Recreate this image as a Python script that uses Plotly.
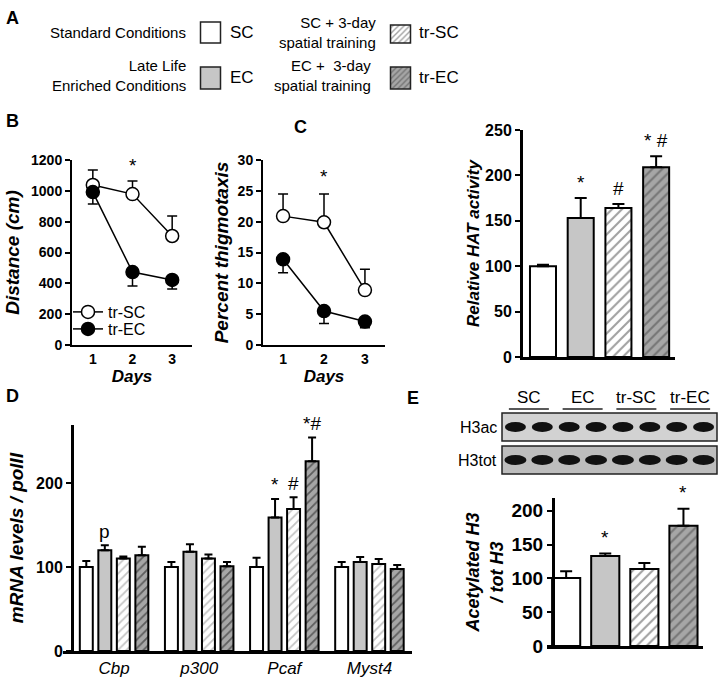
import plotly.graph_objects as go

W, H = 720, 677

# ---------------- data ----------------
days = [1, 2, 3]
dist_trsc = [1038, 979, 707]
dist_trsc_err = [97, 85, 130]
dist_trec = [992, 473, 422]
dist_trec_err = [77, 90, 59]

thig_trsc = [20.9, 19.9, 8.9]
thig_trsc_err = [3.6, 4.6, 3.4]
thig_trec = [13.9, 5.5, 3.8]
thig_trec_err = [2.2, 2.0, 1.0]

groups = ["SC", "EC", "tr-SC", "tr-EC"]
hat = [100, 153, 164, 209]
hat_err = [1.5, 22, 4.5, 12]
hat_sig = ["", "*", "#", "* #"]

genes = ["Cbp", "p300", "Pcaf", "Myst4"]
mrna_sc = [100, 100, 100, 100]
mrna_ec = [120, 118, 159, 106]
mrna_trsc = [110, 110, 169, 103.5]
mrna_trec = [114, 101, 226, 97.5]
mrna_sc_err = [7, 6, 11, 6]
mrna_ec_err = [6, 9, 22, 6]
mrna_trsc_err = [2.5, 5, 14, 6]
mrna_trec_err = [10, 5, 28, 5]
mrna_ec_sig = ["p", "", "*", ""]
mrna_trsc_sig = ["", "", "#", ""]
mrna_trec_sig = ["", "", "*#", ""]

ach3 = [100.7, 133, 114, 178]
ach3_err = [10, 4, 9, 25]
ach3_sig = ["", "*", "", "*"]

blot_rows = ["H3ac", "H3tot"]
blot_lanes_per_group = 2

# ---------------- styles ----------------
SANS = "Liberation Sans, Arial, sans-serif"
fill = ["white", "#c6c6c6", "white", "#a6a6a6"]
pat_shape = ["", "", "/", "/"]
pat_fg = ["black", "black", "#8a8a8a", "#141414"]


def X(px):
    return px / W


def Y(py):
    return 1 - py / H


fig = go.Figure()

# ---------- Panel B ----------
def line_traces(xa, ya, up, uperr, dn, dnerr, show):
    fig.add_trace(go.Scatter(
        x=days, y=up, mode="lines+markers", name="tr-SC", xaxis=xa, yaxis=ya,
        showlegend=show, legend="legend",
        line=dict(color="black", width=1.5),
        marker=dict(symbol="circle", size=13, color="white", line=dict(color="black", width=1.5)),
        error_y=dict(type="data", symmetric=False, array=uperr, arrayminus=[0] * 3,
                     color="black", thickness=1.5, width=5)))
    fig.add_trace(go.Scatter(
        x=days, y=dn, mode="lines+markers", name="tr-EC", xaxis=xa, yaxis=ya,
        showlegend=show, legend="legend2",
        line=dict(color="black", width=1.5),
        marker=dict(symbol="circle", size=13, color="black", line=dict(color="black", width=1.5)),
        error_y=dict(type="data", symmetric=False, array=[0] * 3, arrayminus=dnerr,
                     color="black", thickness=1.5, width=5)))


line_traces("x", "y", dist_trsc, dist_trsc_err, dist_trec, dist_trec_err, True)
line_traces("x2", "y2", thig_trsc, thig_trsc_err, thig_trec, thig_trec_err, False)

# ---------- Panel C ----------
idx = list(range(len(groups)))
fig.add_trace(go.Bar(
    x=idx, y=hat, width=0.69, xaxis="x3", yaxis="y3", showlegend=False,
    marker=dict(color=fill, line=dict(color="black", width=2),
                pattern=dict(shape=pat_shape, fgcolor=pat_fg, bgcolor=fill, size=7, solidity=0.3)),
    error_y=dict(type="data", symmetric=False, array=hat_err, arrayminus=[0] * 4,
                 color="black", thickness=2, width=6)))

# ---------- Panel D ----------
d_vals = [mrna_sc, mrna_ec, mrna_trsc, mrna_trec]
d_errs = [mrna_sc_err, mrna_ec_err, mrna_trsc_err, mrna_trec_err]
d_sigs = [["", "", "", ""], mrna_ec_sig, mrna_trsc_sig, mrna_trec_sig]
for k, g in enumerate(groups):
    fig.add_trace(go.Bar(
        x=genes, y=d_vals[k], name=g, xaxis="x4", yaxis="y4", showlegend=False,
        marker=dict(color=fill[k], line=dict(color="black", width=2),
                    pattern=dict(shape=pat_shape[k], fgcolor=pat_fg[k], bgcolor=fill[k],
                                 size=6, solidity=0.3)),
        error_y=dict(type="data", symmetric=False, array=d_errs[k], arrayminus=[0] * 4,
                     color="black", thickness=2, width=4)))

# ---------- Panel E ----------
fig.add_trace(go.Bar(
    x=idx, y=ach3, width=0.72, xaxis="x5", yaxis="y5", showlegend=False,
    marker=dict(color=fill, line=dict(color="black", width=2),
                pattern=dict(shape=pat_shape, fgcolor=pat_fg, bgcolor=fill, size=7, solidity=0.3)),
    error_y=dict(type="data", symmetric=False, array=ach3_err, arrayminus=[0] * 4,
                 color="black", thickness=2, width=6)))

# ---------- Panel A swatches (overlay pixel axis) ----------
sw_x = [210.5, 210.5, 400.5, 400.5]
sw_top = [22, 67, 25, 67]
sw_h = [21, 22, 18, 22]
sw_order = [0, 1, 2, 3]
fig.add_trace(go.Bar(
    x=sw_x, y=sw_h, base=sw_top, width=20, xaxis="x6", yaxis="y6", showlegend=False,
    hoverinfo="skip",
    marker=dict(color=[fill[i] for i in sw_order], line=dict(color="#222", width=1.5),
                pattern=dict(shape=[pat_shape[i] for i in sw_order],
                             fgcolor=[pat_fg[i] for i in sw_order],
                             bgcolor=[fill[i] for i in sw_order], size=4, solidity=0.35))))

# ---------------- axes ----------------
def yaxis(dom_top, dom_bot, rng, dtick, fsize, lw, anchor=None, position=None, title=None, tsize=18,
          standoff=6):
    d = dict(domain=[Y(dom_bot), Y(dom_top)], range=rng, dtick=dtick, showgrid=False,
             zeroline=False, showline=True, linecolor="black", linewidth=lw, automargin=False,
             ticks="outside", ticklen=5, tickwidth=lw * 0.8, tickcolor="black",
             tickfont=dict(family=SANS, size=fsize, color="black", weight="bold"))
    if position is not None:
        d.update(anchor="free", position=position)
    else:
        d.update(anchor=anchor)
    if title:
        d["title"] = dict(text=title, standoff=standoff,
                          font=dict(family=SANS, size=tsize, color="black", weight="bold", style="italic"))
    return d


def xaxis(x0, x1, rng, anchor, lw, showlabels=False, fsize=14, title=None, italic=False, bold=True,
          tickvals=None, ticktext=None):
    d = dict(domain=[X(x0), X(x1)], range=rng, anchor=anchor, showgrid=False, zeroline=False,
             showline=True, linecolor="black", linewidth=lw, ticks="", automargin=False,
             showticklabels=showlabels, ticklabelstandoff=0,
             tickfont=dict(family=SANS, size=fsize, color="black",
                           weight="bold" if bold else "normal",
                           style="italic" if italic else "normal"))
    if tickvals is not None:
        d.update(tickvals=tickvals, ticktext=ticktext)
    if title:
        d["title"] = dict(text=title, standoff=0,
                          font=dict(family=SANS, size=17, color="black", weight="bold", style="italic"))
    return d


lay = {}
lay["xaxis"] = xaxis(72, 192, [0.475, 3.5], "y", 2, True, 14, "Days", tickvals=days, ticktext=[str(d) for d in days])
lay["yaxis"] = yaxis(160, 345, [0, 1200], 200, 14, 2, anchor="x", title="Distance (cm)", tsize=19)
lay["xaxis2"] = xaxis(263, 385, [0.51, 3.49], "y2", 2, True, 14, "Days", tickvals=days, ticktext=[str(d) for d in days])
lay["yaxis2"] = yaxis(160, 345, [0, 30], 5, 14, 2, anchor="x2", title="Percent thigmotaxis", tsize=19, standoff=4)
lay["xaxis3"] = xaxis(523, 675, [-0.53, 3.5], "y3", 3)
lay["yaxis3"] = yaxis(130, 357, [0, 250], 50, 16, 3, anchor="x3", title="Relative HAT activity", tsize=17,
                      standoff=2)
lay["xaxis4"] = xaxis(63, 412, [-0.6, 3.5], "y4", 3, True, 17, italic=True, bold=False)
lay["yaxis4"] = yaxis(425, 651, [0, 269], 100, 16, 3, position=X(72), title="mRNA levels / polII", tsize=19)
lay["xaxis5"] = xaxis(547, 703, [-0.49, 3.5], "y5", 3)
lay["yaxis5"] = yaxis(498, 646, [0, 219], 50, 19, 3, position=X(553),
                      title="Acetylated H3<br>/ tot H3", tsize=18, standoff=2)
lay["xaxis6"] = dict(domain=[0, 1], range=[0, W], anchor="y6", visible=False, fixedrange=True)
lay["yaxis6"] = dict(domain=[0, 1], range=[H, 0], anchor="x6", visible=False, fixedrange=True)

fig.update_layout(**lay)
leg_common = dict(xanchor="left", yanchor="middle", bgcolor="rgba(0,0,0,0)",
                  font=dict(family=SANS, size=16, color="black"), itemwidth=30,
                  borderwidth=0)
fig.update_layout(
    width=W, height=H, margin=dict(l=0, r=0, t=0, b=0, pad=0, autoexpand=False),
    paper_bgcolor="white", plot_bgcolor="rgba(0,0,0,0)",
    barmode="group", bargap=0.13, bargroupgap=0.3,
    legend=dict(x=X(68), y=Y(312), **leg_common),
    legend2=dict(x=X(68), y=Y(329), **leg_common),
)

ann = []


def text(px, py, s, size=16, xanchor="center", family=SANS, bold=False, italic=False, align="center"):
    ann.append(dict(x=X(px), y=Y(py), xref="paper", yref="paper", text=s, showarrow=False,
                    xanchor=xanchor, yanchor="middle", align=align,
                    font=dict(family=family, size=size, color="black",
                              weight="bold" if bold else "normal",
                              style="italic" if italic else "normal")))


# panel letters
for L, px, py in [("A", 12, 18), ("B", 12, 121), ("C", 300, 127), ("D", 12, 396), ("E", 413, 398)]:
    text(px, py, L, size=18, family=SANS, bold=True)

# panel A legend text
text(188, 33, "Standard Conditions", size=15, xanchor="right")
text(188, 76, "Late Life<br>Enriched Conditions", size=15, xanchor="right", align="right")
text(378, 33, "SC + 3-day<br>spatial training", size=15, xanchor="right", align="right")
text(373, 76, "EC +  3-day<br>spatial training", size=15, xanchor="right", align="right")
text(228, 33, "SC", size=17, xanchor="left")
text(228, 78, "EC", size=17, xanchor="left")
text(417, 33, "tr-SC", size=17, xanchor="left")
text(417, 78, "tr-EC", size=17, xanchor="left")

# significance marks
def sig(xa, ya, x, y, s, shift, size=19):
    ann.append(dict(x=x, y=y, xref=xa, yref=ya, text=s, showarrow=False, yanchor="middle",
                    yshift=shift, font=dict(family=SANS, size=size, color="black")))


sig("x", "y", days[1], dist_trsc[1] + dist_trsc_err[1], "*", 15)
sig("x2", "y2", days[1], thig_trsc[1] + thig_trsc_err[1], "*", 17)
for i in idx:
    if hat_sig[i]:
        sig("x3", "y3", i, hat[i] + hat_err[i], hat_sig[i], 16)
    if ach3_sig[i]:
        sig("x5", "y5", i, ach3[i] + ach3_err[i], ach3_sig[i], 16)
slot = (1 - 0.13) / 4
for k in range(4):
    for i in range(4):
        s = d_sigs[k][i]
        if s:
            xpos = i - (1 - 0.13) / 2 + slot * (k + 0.5)
            sig("x4", "y4", xpos, d_vals[k][i] + d_errs[k][i], s, 14)

# blot
shapes = []
bx0, bx1 = 502, 717
rows_px = [(413, 441, "#d2d2d2"), (446, 474, "#bdbdbd")]
n_lanes = len(groups) * blot_lanes_per_group
lane_w = (bx1 - bx0) / n_lanes
for r, (y0, y1, col) in enumerate(rows_px):
    shapes.append(dict(type="rect", xref="paper", yref="paper", x0=X(bx0), x1=X(bx1), y0=Y(y1), y1=Y(y0),
                       fillcolor=col, line=dict(color="#222", width=1.5), layer="above"))
    cy = (y0 + y1) / 2
    for ln in range(n_lanes):
        cx = bx0 + (ln + 0.5) * lane_w
        hw = 10.5 if r == 0 else 11
        hh = 5
        shapes.append(dict(type="circle", xref="paper", yref="paper", x0=X(cx - hw), x1=X(cx + hw),
                           y0=Y(cy + hh), y1=Y(cy - hh), fillcolor="#111111", line=dict(width=0),
                           layer="above"))
    text(499, cy, blot_rows[r], size=16, xanchor="right")
for gi, g in enumerate(groups):
    cx = bx0 + (gi * blot_lanes_per_group + blot_lanes_per_group / 2) * lane_w
    text(cx, 397, g, size=17)
    shapes.append(dict(type="line", xref="paper", yref="paper", x0=X(cx - 20), x1=X(cx + 20),
                       y0=Y(409), y1=Y(409), line=dict(color="#222", width=1.5)))

fig.update_layout(annotations=ann, shapes=shapes)
fig.write_html("out.html", config={"displayModeBar": False},
               post_script="document.body.style.margin='0px';document.body.style.overflow='hidden';")
